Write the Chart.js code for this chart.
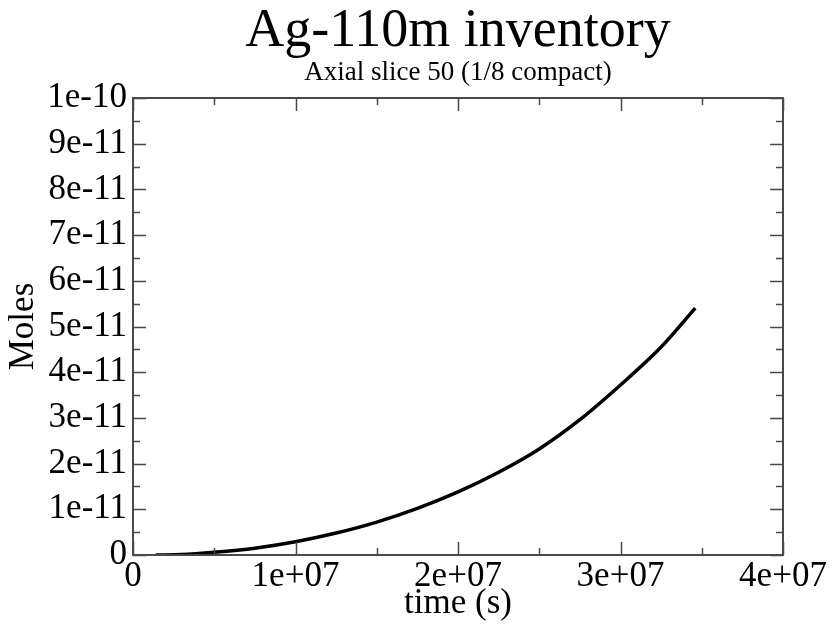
<!DOCTYPE html>
<html>
<head>
<meta charset="utf-8">
<title>Ag-110m inventory</title>
<script src="https://cdn.jsdelivr.net/npm/chart.js@4/dist/chart.umd.min.js"></script>
<style>
  html, body { margin: 0; padding: 0; background: #fff; }
  canvas { display: block; }
</style>
</head>
<body>
<canvas id="inventoryChart" width="832" height="624"></canvas>
<script>
// Ag-110m inventory over time, axial slice 50
const timeSeconds = [1.4e6, 3e6, 5e6, 7.5e6, 1.0e7, 1.25e7, 1.5e7, 1.75e7, 2.0e7, 2.25e7, 2.5e7, 2.75e7, 3.0e7, 3.25e7, 3.46e7];
const molesValues = [0, 0.01e-11, 0.06e-11, 0.15e-11, 0.29e-11, 0.48e-11, 0.72e-11, 1.02e-11, 1.38e-11, 1.81e-11, 2.32e-11, 2.96e-11, 3.72e-11, 4.55e-11, 5.4e-11];

// axis ticks (major ones get labels, minor ones are just marks)
const xMajorTicks = [0, 1e7, 2e7, 3e7, 4e7];
const xTickLabels = ['0', '1e+07', '2e+07', '3e+07', '4e+07'];
const xMinorTicks = [5e6, 1.5e7, 2.5e7, 3.5e7];
const yMajorTicks = [0, 1e-11, 2e-11, 3e-11, 4e-11, 5e-11, 6e-11, 7e-11, 8e-11, 9e-11, 1e-10];
const yTickLabels = ['0', '1e-11', '2e-11', '3e-11', '4e-11', '5e-11', '6e-11', '7e-11', '8e-11', '9e-11', '1e-10'];
const yMinorTicks = [0.5e-11, 1.5e-11, 2.5e-11, 3.5e-11, 4.5e-11, 5.5e-11, 6.5e-11, 7.5e-11, 8.5e-11, 9.5e-11];

const SERIF = "'Liberation Serif', 'Times New Roman', serif";
const FRAME = '#4a4a4a';

// keep title + subtitle centred over the plot box rather than the canvas
const centreTitles = {
  id: 'centreTitles',
  afterLayout(chart) {
    const a = chart.chartArea;
    chart.boxes.forEach(b => {
      if (b.options && typeof b.options.text === 'string') {
        b.left = a.left;
        b.right = a.right;
      }
    });
  }
};

// frame box plus inward ticks on all four sides
const frameTicks = {
  id: 'frameTicks',
  afterDatasetsDraw(chart) {
    const { ctx, chartArea: a, scales: { x, y } } = chart;
    ctx.save();
    ctx.strokeStyle = FRAME;
    ctx.lineWidth = 1.5;
    const mark = (vals, len, horiz) => {
      vals.forEach(v => {
        if (horiz) {
          const px = Math.round(x.getPixelForValue(v)) + 0.5;
          ctx.beginPath();
          ctx.moveTo(px, a.bottom); ctx.lineTo(px, a.bottom - len);
          ctx.moveTo(px, a.top); ctx.lineTo(px, a.top + len);
          ctx.stroke();
        } else {
          const py = Math.round(y.getPixelForValue(v)) + 0.5;
          ctx.beginPath();
          ctx.moveTo(a.left, py); ctx.lineTo(a.left + len, py);
          ctx.moveTo(a.right, py); ctx.lineTo(a.right - len, py);
          ctx.stroke();
        }
      });
    };
    mark(xMajorTicks, 13, true);
    mark(xMinorTicks, 7, true);
    mark(yMajorTicks, 13, false);
    mark(yMinorTicks, 7, false);
    ctx.lineWidth = 2;
    ctx.strokeRect(a.left, a.top, a.right - a.left, a.bottom - a.top);
    ctx.restore();
  }
};

new Chart(document.getElementById('inventoryChart').getContext('2d'), {
  type: 'line',
  data: {
    datasets: [{
      data: timeSeconds.map((t, i) => ({ x: t, y: molesValues[i] })),
      borderColor: '#000',
      borderWidth: 3.5,
      pointRadius: 0,
      cubicInterpolationMode: 'monotone',
      fill: false
    }]
  },
  options: {
    responsive: false,
    animation: false,
    layout: { padding: { top: 0, left: 0, right: 49, bottom: 0 } },
    plugins: {
      legend: { display: false },
      tooltip: { enabled: false },
      title: {
        display: true,
        text: 'Ag-110m inventory',
        color: '#000',
        font: { family: SERIF, size: 54, weight: 'normal', lineHeight: 1 },
        padding: { top: 5, bottom: 0 }
      },
      subtitle: {
        display: true,
        text: 'Axial slice 50 (1/8 compact)',
        color: '#000',
        font: { family: SERIF, size: 27, weight: 'normal', lineHeight: 1 },
        padding: { top: 0, bottom: 12 }
      }
    },
    scales: {
      x: {
        type: 'linear',
        min: 0,
        max: 4e7,
        grid: { display: false, drawTicks: false },
        border: { display: false },
        afterBuildTicks: s => { s.ticks = xMajorTicks.map(v => ({ value: v })); },
        afterFit: s => { s.height = 69; },
        ticks: {
          autoSkip: false,
          maxRotation: 0,
          padding: 4,
          color: '#000',
          font: { family: SERIF, size: 35, lineHeight: 1 },
          callback: (v, i) => xTickLabels[i]
        },
        title: {
          display: true,
          text: 'time (s)',
          color: '#000',
          font: { family: SERIF, size: 35, lineHeight: 1 },
          padding: { top: 0, bottom: 3 }
        }
      },
      y: {
        type: 'linear',
        min: 0,
        max: 1e-10,
        grid: { display: false, drawTicks: false },
        border: { display: false },
        afterBuildTicks: s => { s.ticks = yMajorTicks.map(v => ({ value: v })); },
        afterFit: s => { s.width = 133; },
        ticks: {
          autoSkip: false,
          padding: 6,
          color: '#000',
          font: { family: SERIF, size: 35, lineHeight: 1 },
          callback: (v, i) => yTickLabels[i]
        },
        title: {
          display: true,
          text: 'Moles',
          color: '#000',
          font: { family: SERIF, size: 35, lineHeight: 1 },
          padding: { top: 6, bottom: 0 }
        }
      }
    }
  },
  plugins: [centreTitles, frameTicks]
});
</script>
</body>
</html>
